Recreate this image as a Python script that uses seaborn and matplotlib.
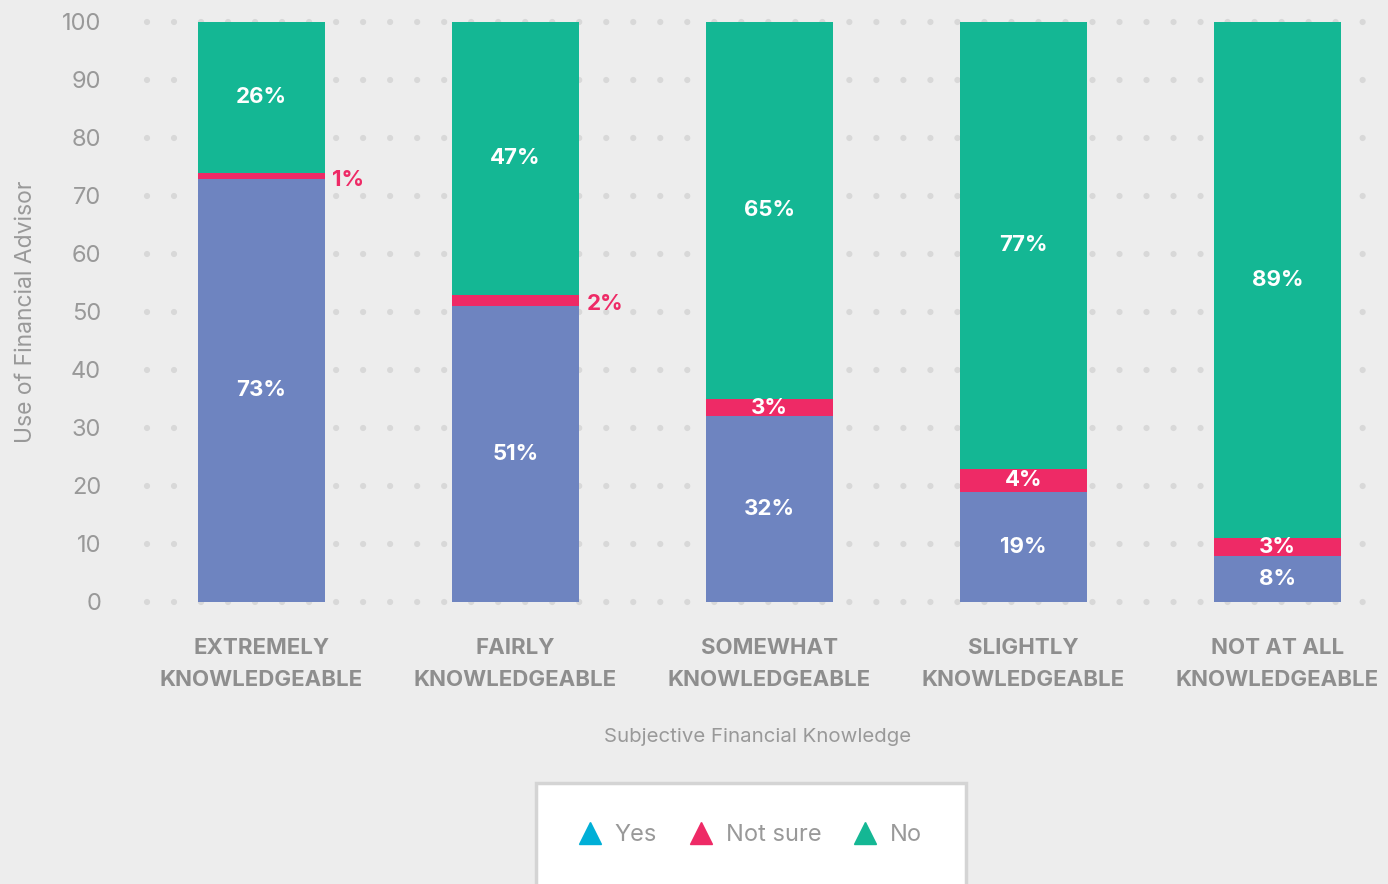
import matplotlib
matplotlib.use("Agg")
import matplotlib.pyplot as plt
import seaborn as sns
from matplotlib.patches import Rectangle
from matplotlib.lines import Line2D

categories = ["EXTREMELY\nKNOWLEDGEABLE", "FAIRLY\nKNOWLEDGEABLE", "SOMEWHAT\nKNOWLEDGEABLE",
              "SLIGHTLY\nKNOWLEDGEABLE", "NOT AT ALL\nKNOWLEDGEABLE"]
yes_vals = [73, 51, 32, 19, 8]
notsure_vals = [1, 2, 3, 4, 3]
no_vals = [26, 47, 65, 77, 89]
y_ticks = [0, 10, 20, 30, 40, 50, 60, 70, 80, 90, 100]

BG = "#ededed"
C_YES_BAR = "#6e84c0"
C_YES = "#00afd7"
C_NS = "#ee2a66"
C_NO = "#14b794"
GREY = "#999999"

sns.set_style("white")
plt.rcParams["font.family"] = ["Inter", "DejaVu Sans"]
plt.rcParams["lines.scale_dashes"] = False

fig = plt.figure(figsize=(13.88, 8.84), dpi=100, facecolor=BG)
ax = fig.add_axes([147 / 1388, 282 / 884, (1388 - 147) / 1388, 580 / 884])
ax.set_facecolor(BG)

bottom2 = [a + b for a, b in zip(yes_vals, notsure_vals)]
sns.barplot(x=categories, y=yes_vals, color=C_YES_BAR, width=0.5, saturation=1, ax=ax, zorder=3)
sns.barplot(x=categories, y=notsure_vals, bottom=yes_vals, color=C_NS, width=0.5, saturation=1, ax=ax, zorder=3)
sns.barplot(x=categories, y=no_vals, bottom=bottom2, color=C_NO, width=0.5, saturation=1, ax=ax, zorder=3)

for p in ax.patches:
    p.set_linewidth(0)

# labels
for i in range(len(categories)):
    ax.text(i, yes_vals[i] / 2, f"{yes_vals[i]}%", ha="center", va="center",
            color="white", fontsize=16, fontweight="bold", zorder=5)
    mid = yes_vals[i] + notsure_vals[i] / 2
    if notsure_vals[i] < 3:
        ax.text(i + 0.28, mid - 0.7, f"{notsure_vals[i]}%", ha="left", va="center",
                color=C_NS, fontsize=16, fontweight="bold", zorder=5)
    else:
        ax.text(i, mid, f"{notsure_vals[i]}%", ha="center", va="center",
                color="white", fontsize=16, fontweight="bold", zorder=5)
    ax.text(i, bottom2[i] + no_vals[i] / 2, f"{no_vals[i]}%", ha="center", va="center",
            color="white", fontsize=16, fontweight="bold", zorder=5)

ax.set_xlim(-0.45, -0.45 + (1388 - 147) / 254)
ax.set_ylim(0, 100)
ax.set_yticks(y_ticks)
ax.tick_params(axis="y", length=0, pad=33, labelsize=17, labelcolor=GREY)
ax.tick_params(axis="x", length=0, pad=26, labelsize=16, labelcolor="#8e8e8e")
for lbl in ax.get_xticklabels():
    lbl.set_fontweight("bold")
    lbl.set_linespacing(1.75)

ax.grid(axis="y", color="#d8d8d8", linewidth=4.5, linestyle=(0, (0.01, 19.44)),
        dash_capstyle="round", zorder=0)
for gl in ax.get_ygridlines():
    gl.set_clip_on(False)
    gl.set_dash_capstyle("round")
ax.set_axisbelow(True)
sns.despine(ax=ax, left=True, bottom=True)

ax.set_ylabel("Use of Financial Advisor", fontsize=16.5, color=GREY)
ax.yaxis.set_label_coords(-(147 - 37) / 1241, 0.5)
fig.text(758 / 1388, 1 - 737 / 884, "Subjective Financial Knowledge", ha="center", va="center",
         fontsize=14.7, color=GREY)

# legend box
fig.patches.append(Rectangle((536 / 1388, -0.05), 430 / 1388, (884 - 783) / 884 + 0.05,
                             transform=fig.transFigure, facecolor="white", edgecolor="#d4d4d4",
                             linewidth=2.5, zorder=1))
handles = [Line2D([], [], marker="^", linestyle="none", color=c, markersize=16)
           for c in (C_YES, C_NS, C_NO)]
leg = fig.legend(handles, ["Yes", "Not sure", "No"], loc="center",
                 bbox_to_anchor=(750 / 1388, 1 - 835 / 884), ncol=3, frameon=False,
                 fontsize=17, labelcolor=GREY, handlelength=1.0, handletextpad=0.55,
                 columnspacing=1.35)
leg.set_zorder(2)

fig.savefig("out.png", dpi=100, facecolor=BG)
